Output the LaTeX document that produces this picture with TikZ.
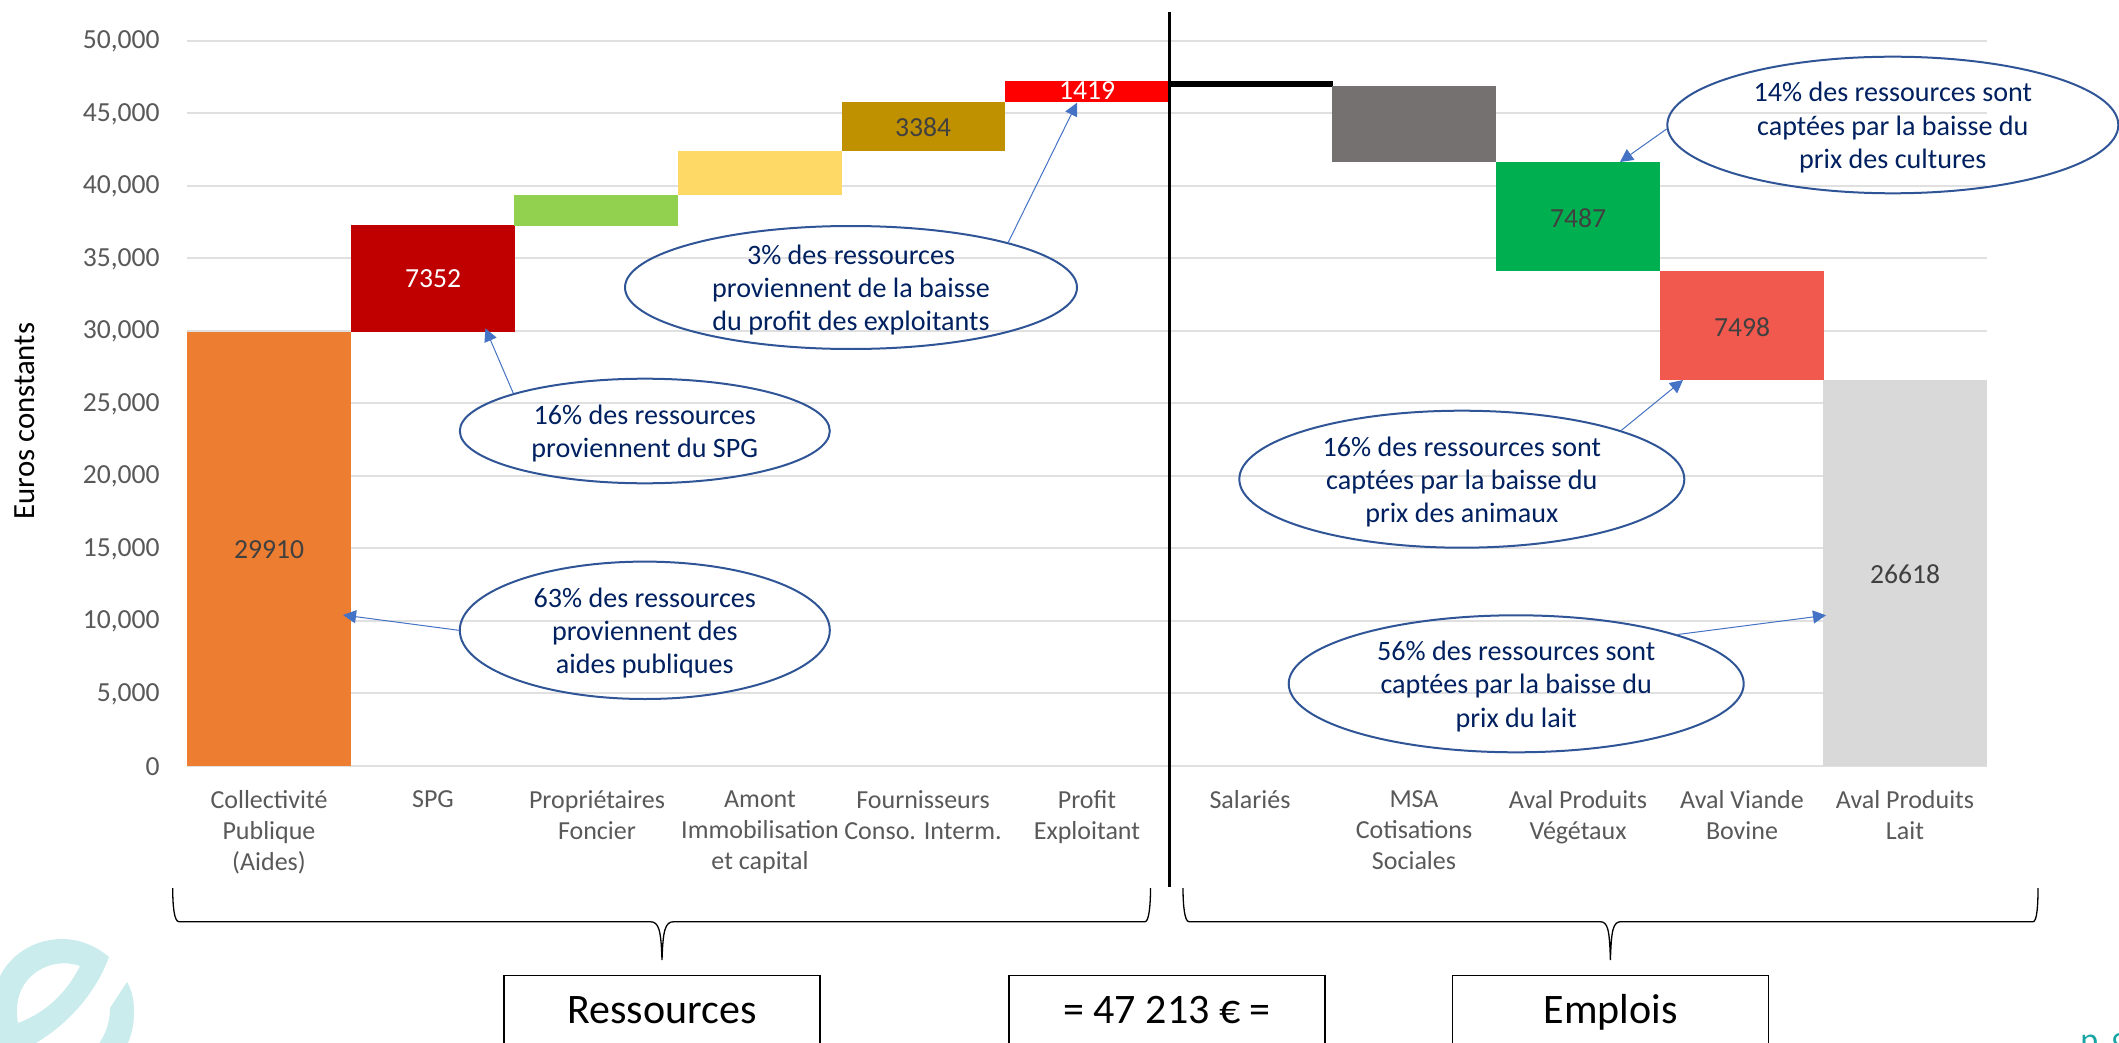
\documentclass[tikz,border=0pt]{standalone}
\usepackage{fontspec}
\setmainfont{Carlito}
\usetikzlibrary{shapes.geometric,arrows.meta}
\definecolor{gridc}{HTML}{E0E0E0}
\definecolor{axt}{HTML}{595959}
\definecolor{valt}{HTML}{404040}
\definecolor{navy}{HTML}{002060}
\definecolor{ringc}{HTML}{2F5597}
\definecolor{arrc}{HTML}{4472C4}
\definecolor{logoc}{HTML}{CBECED}
\definecolor{pagec}{HTML}{1AA5A5}
\definecolor{bOrange}{HTML}{ED7D31}
\definecolor{bDarkRed}{HTML}{C00000}
\definecolor{bLime}{HTML}{92D050}
\definecolor{bYellow}{HTML}{FFD966}
\definecolor{bGold}{HTML}{BF9000}
\definecolor{bRed}{HTML}{FF0000}
\definecolor{bGray}{HTML}{767171}
\definecolor{bGreen}{HTML}{00B050}
\definecolor{bSalmon}{HTML}{F1594E}
\definecolor{bLight}{HTML}{D9D9D9}
\newcommand{\calltxt}[1]{\smash{\makebox[0pt]{\raisebox{-0.53em}{\fontsize{14.05}{16.6}\selectfont\begin{tabular}{@{}c@{}}#1\end{tabular}}}}}
\tikzset{
  x=0.5pt,y=-0.5pt,
  gridline/.style={gridc,line width=1pt},
  tick/.style={text=axt,font=\fontsize{13.8}{15.5}\selectfont,anchor=east,inner sep=0pt},
  cat/.style={text=axt,font=\fontsize{13}{15.5}\selectfont,anchor=north,align=center,inner sep=0pt},
  val/.style={text=valt,font=\fontsize{13.8}{15.5}\selectfont,inner sep=0pt},
  valw/.style={val,text=white},
  bubble/.style={ellipse,draw=ringc,line width=1pt,inner sep=0pt,text=navy,minimum width=#1},
  callout/.style={-{Triangle[length=6.5pt,width=6.5pt]},arrc,line width=0.5pt},
  sumbox/.style={draw=black,line width=0.7pt,minimum width=158pt,minimum height=34pt,inner sep=0pt,font=\fontsize{21}{23}\selectfont,text=black,text height=13.5pt,text depth=0pt},
  bracec/.style={black,line width=0.65pt},
}
\begin{document}
\begin{tikzpicture}
\useasboundingbox (0,0) rectangle (2119,1043);
\begin{scope}
\clip (0,0) rectangle (2119,1043);
% logo
\fill[logoc,even odd rule] (-5,990) .. controls (2,960) and (30,939) .. (62,939)
  .. controls (80,939) and (96,946) .. (109,957)
  .. controls (95,995) and (60,1040) .. (-5,1062) -- cycle
  (80,966) .. controls (60,959) and (38,966) .. (26,982)
  .. controls (18,992) and (15,1008) .. (18,1023)
  .. controls (48,1012) and (68,990) .. (80,966) -- cycle;
\fill[logoc] (127,982) .. controls (133,992) and (134,1003) .. (134,1012)
  .. controls (134,1024) and (132,1034) .. (127,1045) -- (98,1045)
  .. controls (106,1034) and (110,1022) .. (110,1008) -- cycle;
% grid
\foreach \vv/\lab in {0/0,5/{5,000},10/{10,000},15/{15,000},20/{20,000},25/{25,000},30/{30,000},35/{35,000},40/{40,000},45/{45,000},50/{50,000}}{
  \pgfmathsetmacro{\yy}{765.7-14.5*\vv}
  \pgfmathsetmacro{\yt}{\yy+1}
  \coordinate (gl\vv) at (187,\yy);
  \coordinate (gr\vv) at (1987,\yy);
  \draw[gridline] (gl\vv) -- (gr\vv);
  \node[tick] (t\vv) at (160,\yt) {\lab};
}
\node[rotate=90,inner sep=0pt,font=\fontsize{15.4}{17}\selectfont,text=black] (ylab) at (25,421) {Euros constants};
% bars
\fill[bOrange] (187,332) rectangle (351,765.7);
\fill[bDarkRed] (351,225.4) rectangle (515,332);
\fill[bLime] (514,195) rectangle (678,226);
\fill[bYellow] (678,150.7) rectangle (842,195);
\fill[bGold] (842,101.7) rectangle (1005,150.7);
\fill[bRed] (1005,81) rectangle (1168,101.7);
\fill[black] (1169,81) rectangle (1332.7,87);
\fill[bGray] (1332,86) rectangle (1496,162.4);
\fill[bGreen] (1496,162.4) rectangle (1660,271);
\fill[bSalmon] (1660,271) rectangle (1824,380);
\fill[bLight] (1823,380) rectangle (1987,765.7);
% values
\node[val] (v1) at (269,550) {29910};
\node[valw] (v2) at (433,279) {7352};
\node[val] (v5) at (923,127) {3384};
\node[valw] (v6) at (1087,91) {1419};
\node[val] (v9) at (1578,218) {7487};
\node[val] (v10) at (1742,327) {7498};
\node[val] (v11) at (1905,574) {26618};
% divider
\coordinate (divtop) at (1169,12);
\coordinate (divbot) at (1169,887);
\draw[black,line width=1.5pt] (divtop) -- (divbot);
% category labels
\foreach \n/\xx/\lab in {a/269/{Collectivité\\Publique\\(Aides)},b/433/{SPG},c/597/{Propriétaires\\Foncier},d/760/{Amont\\Immobilisation\\et capital},e/923/{Fournisseurs\\Conso. Interm.},f/1087/{Profit\\Exploitant},g/1250/{Salariés},h/1414/{MSA\\Cotisations\\Sociales},i/1578/{Aval Produits\\Végétaux},j/1742/{Aval Viande\\Bovine},k/1905/{Aval Produits\\Lait}}{
  \node[cat] (c\n) at (\xx,790.5) {\lab};
}
% ellipses
\node[bubble=226pt,minimum height=61.5pt] (e1) at (851,287.5) {\calltxt{3\% des ressources\\proviennent de la baisse\\du profit des exploitants}};
\node[bubble=185pt,minimum height=52.3pt] (e2) at (644.8,431) {\calltxt{16\% des ressources\\proviennent du SPG}};
\node[bubble=185pt,minimum height=68.7pt] (e3) at (644.8,630.3) {\calltxt{63\% des ressources\\proviennent des\\aides publiques}};
\node[bubble=225.5pt,minimum height=68.3pt] (e4) at (1892.8,125) {\calltxt{14\% des ressources sont\\captées par la baisse du\\prix des cultures}};
\node[bubble=222.5pt,minimum height=68.5pt] (e5) at (1461.8,479.2) {\calltxt{16\% des ressources sont\\captées par la baisse du\\prix des animaux}};
\node[bubble=227.5pt,minimum height=68.5pt] (e6) at (1516.2,683.8) {\calltxt{56\% des ressources sont\\captées par la baisse du\\prix du lait}};
% arrow targets
\coordinate (a1) at (1077,102.7);
\coordinate (a2) at (485.4,328.3);
\coordinate (a3) at (343,615);
\coordinate (a4) at (1620,162);
\coordinate (a5) at (1683,380);
\coordinate (a6) at (1826,615.3);
\draw[callout] (e1.16) -- (a1);
\draw[callout] (e2.164) -- (a2);
\draw[callout] (e3.180) -- (a3);
\draw[callout] (e4.181) -- (a4);
\draw[callout] (e5.17.2) -- (a5);
\draw[callout] (e6.17) -- (a6);
% braces
\draw[bracec] (172.7,888) .. controls (172.7,905) and (174,921.7) .. (179,921.7) -- (650,921.7)
  .. controls (659,921.7) and (661,930) .. (662,960)
  .. controls (663,930) and (665,921.7) .. (674,921.7) -- (1145,921.7)
  .. controls (1149,921.7) and (1150.5,905) .. (1150.5,888);
\draw[bracec] (1183,888) .. controls (1183,905) and (1184.5,921.7) .. (1189,921.7) -- (1600,921.7)
  .. controls (1608,921.7) and (1609.5,930) .. (1610.4,960)
  .. controls (1611.3,930) and (1613,921.7) .. (1621,921.7) -- (2033,921.7)
  .. controls (2037,921.7) and (2038,905) .. (2038,888);
% boxes
\node[sumbox] (r) at (662,1009.5) {Ressources};
\node[sumbox] (s) at (1167,1009.5) {= 47 213 € =};
\node[sumbox] (m) at (1610.7,1009.5) {Emplois};
% page
\node[anchor=base west,inner sep=0pt,text=pagec,font=\fontsize{17}{18}\selectfont\addfontfeatures{Numbers=OldStyle}] (p) at (2080,1051) {p.\kern-1.5pt\ 9};
\end{scope}
\end{tikzpicture}
\end{document}
